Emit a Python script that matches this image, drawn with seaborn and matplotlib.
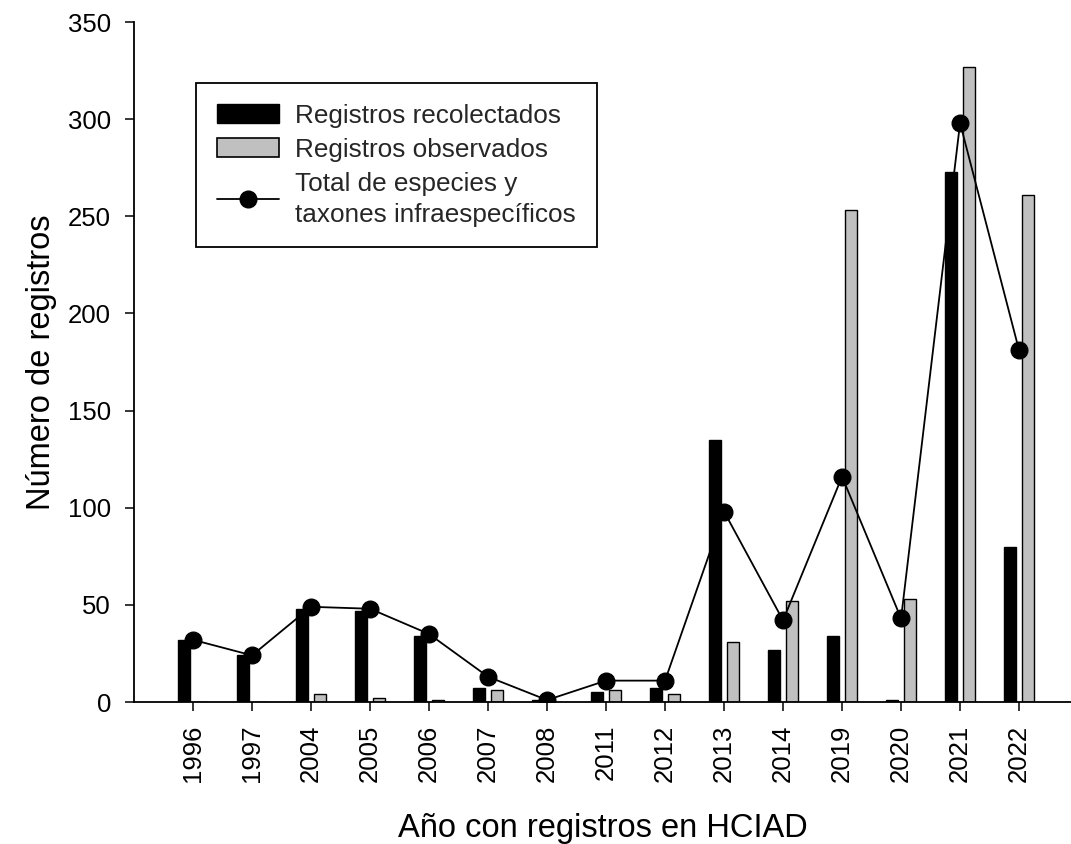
import matplotlib
matplotlib.use("Agg")
import matplotlib.pyplot as plt
import seaborn as sns
import pandas as pd
from matplotlib.patches import Patch
from matplotlib.lines import Line2D

years = ['1996', '1997', '2004', '2005', '2006', '2007', '2008', '2011',
         '2012', '2013', '2014', '2019', '2020', '2021', '2022']
recolectados = [32, 24, 48, 47, 34, 7, 1, 5, 7, 135, 27, 34, 1, 273, 80]
observados = [0, 0, 4, 2, 1, 6, 0, 6, 4, 31, 52, 253, 53, 327, 261]
total = [32, 24, 49, 48, 35, 13, 1, 11, 11, 98, 42, 116, 43, 298, 181]

lab_rec = 'Registros recolectados'
lab_obs = 'Registros observados'
lab_tot = 'Total de especies y\ntaxones infraespecíficos'
yticks = [0, 50, 100, 150, 200, 250, 300, 350]

sns.set_theme(style='ticks')
plt.rcParams['font.family'] = ['Liberation Sans', 'DejaVu Sans']

df = pd.DataFrame({
    'year': years * 2,
    'value': recolectados + observados,
    'serie': [lab_rec] * len(years) + [lab_obs] * len(years),
})

fig = plt.figure(figsize=(10.71, 8.44), dpi=100)
ax = fig.add_axes([134 / 1071, 1 - 702 / 844, 1 - 134 / 1071, (702 - 22) / 844])

sns.barplot(data=df, x='year', y='value', hue='serie', order=years,
            hue_order=[lab_rec, lab_obs],
            palette={lab_rec: 'black', lab_obs: '#C0C0C0'},
            width=0.6, gap=0.33, edgecolor='black', linewidth=1.0,
            legend=False, ax=ax)
sns.pointplot(x=years, y=total, order=years, color='black', markers='o',
              markersize=12, linewidth=1.3, errorbar=None, ax=ax)

ax.set_xlim(-1.0, 14.88)
ax.set_ylim(0, 350)
ax.set_yticks(yticks)
ax.set_yticklabels([str(t) for t in yticks])
sns.despine(ax=ax)
for s in ['left', 'bottom']:
    ax.spines[s].set_linewidth(1.3)
    ax.spines[s].set_color('black')
ax.tick_params(axis='both', length=6.5, width=1.1, labelsize=18.5, pad=10,
               color='black', labelcolor='black')
plt.setp(ax.get_xticklabels(), rotation=90)

ax.set_xlabel('Año con registros en HCIAD', fontsize=23.5, labelpad=22, color='black')
ax.set_ylabel('Número de registros', fontsize=23.5, labelpad=8, color='black')

handles = [Patch(facecolor='black', edgecolor='black'),
           Patch(facecolor='#C0C0C0', edgecolor='black', linewidth=1.2),
           Line2D([], [], color='black', marker='o', markersize=12, linewidth=1.3)]
leg = ax.legend(handles, [lab_rec, lab_obs, lab_tot], loc='upper left',
                bbox_to_anchor=(0.066, 0.910), borderaxespad=0,
                fontsize=18.8, frameon=True, fancybox=False, framealpha=1,
                edgecolor='black', handlelength=2.4, handleheight=0.74,
                handletextpad=0.6, borderpad=0.8, labelspacing=0.38)
leg.get_frame().set_linewidth(1.3)
for t in leg.get_texts():
    t.set_linespacing(1.35)

fig.savefig('out.png', dpi=100)
